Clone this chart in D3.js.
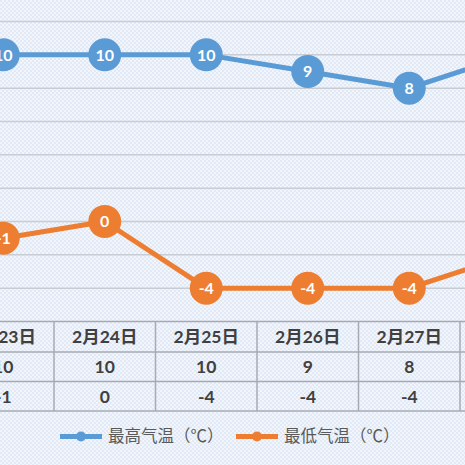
<!DOCTYPE html>
<html>
<head>
<meta charset="utf-8">
<script src="https://cdn.jsdelivr.net/npm/d3@7"></script>
<style>
  html, body { margin: 0; padding: 0; background: #e8eff8; }
  svg { display: block; }
</style>
</head>
<body>
<svg id="chart" width="465" height="465"></svg>
<script>
// data
const dates = ["2月23日", "2月24日", "2月25日", "2月26日", "2月27日", "2月28日"];
const highTemps = [10, 10, 10, 9, 8, 10];
const lowTemps = [-1, 0, -4, -4, -4, -2];
const yTicks = [-6, -4, -2, 0, 2, 4, 6, 8, 10, 12, 14];
const seriesNames = ["最高气温（℃）", "最低气温（℃）"];

const W = 465, H = 465;
const blue = "#5b9bd5", orange = "#ed7d31";
const numFont = "Lato, 'Noto Sans CJK SC', sans-serif";

const svg = d3.select("#chart");

// diamond-ish texture like the office background
const defs = svg.append("defs");
const pat = defs.append("pattern")
    .attr("id", "bg")
    .attr("width", 4).attr("height", 4)
    .attr("patternUnits", "userSpaceOnUse");
pat.append("rect").attr("width", 4).attr("height", 4).attr("fill", "#f2f6fb");
pat.append("rect").attr("x", 0).attr("y", 0).attr("width", 2).attr("height", 2).attr("fill", "#e0e9f5");
pat.append("rect").attr("x", 2).attr("y", 2).attr("width", 2).attr("height", 2).attr("fill", "#e0e9f5");

svg.append("rect").attr("width", W).attr("height", H).attr("fill", "url(#bg)");

// the chart is cropped: band scale runs past both edges
const x = d3.scaleBand()
    .domain(dates)
    .range([-47.5, -47.5 + 101.5 * dates.length]);

const y = d3.scaleLinear()
    .domain([-6, 14])
    .range([321.5, -11.8]);

// gridlines
svg.append("g")
    .selectAll("line")
    .data(yTicks.slice(1))
    .join("line")
    .attr("x1", 0).attr("x2", W)
    .attr("y1", d => y(d)).attr("y2", d => y(d))
    .attr("stroke", "#c8cdd4")
    .attr("stroke-width", 1.5);

const cx = d => x(d) + x.bandwidth() / 2;

function drawSeries(values, color) {
    const pts = dates.map((d, i) => [cx(d), y(values[i]), values[i]]);
    const line = d3.line().x(p => p[0]).y(p => p[1]);
    svg.append("path")
        .attr("d", line(pts))
        .attr("fill", "none")
        .attr("stroke", color)
        .attr("stroke-width", 5)
        .attr("stroke-linejoin", "round");
    const g = svg.append("g")
        .selectAll("g")
        .data(pts)
        .join("g")
        .attr("transform", p => `translate(${p[0]},${p[1]})`);
    g.append("circle")
        .attr("r", 16.5)
        .attr("fill", color);
    g.append("text")
        .attr("text-anchor", "middle")
        .attr("dy", "0.36em")
        .attr("fill", "#fff")
        .attr("font-family", numFont)
        .attr("font-weight", "bold")
        .attr("font-size", 16)
        .text(p => p[2]);
}

drawSeries(highTemps, blue);
drawSeries(lowTemps, orange);

// data table under the plot
const rowY = [321.5, 352, 381.5, 411];
const tableRows = [dates, highTemps, lowTemps];
const tbl = svg.append("g");

tbl.selectAll("line.h")
    .data(rowY)
    .join("line")
    .attr("x1", 0).attr("x2", W)
    .attr("y1", d => d).attr("y2", d => d)
    .attr("stroke", "#a6abb2")
    .attr("stroke-width", 1.5);

tbl.selectAll("line.v")
    .data(dates)
    .join("line")
    .attr("x1", d => x(d) + x.bandwidth()).attr("x2", d => x(d) + x.bandwidth())
    .attr("y1", rowY[0]).attr("y2", rowY[3])
    .attr("stroke", "#a6abb2")
    .attr("stroke-width", 1.5);

tableRows.forEach((row, r) => {
    tbl.append("g")
        .selectAll("text")
        .data(row)
        .join("text")
        .attr("x", (d, i) => cx(dates[i]))
        .attr("y", (rowY[r] + rowY[r + 1]) / 2)
        .attr("dy", "0.36em")
        .attr("text-anchor", "middle")
        .attr("fill", "#404040")
        .attr("font-family", numFont)
        .attr("font-weight", "bold")
        .attr("font-size", 17.5)
        .text(d => d);
});

// legend
const legend = svg.append("g")
    .selectAll("g")
    .data(seriesNames)
    .join("g")
    .attr("transform", (d, i) => `translate(${60 + i * 176},436.5)`);

legend.append("line")
    .attr("x1", 0).attr("x2", 42)
    .attr("stroke", (d, i) => i ? orange : blue)
    .attr("stroke-width", 5);
legend.append("circle")
    .attr("cx", 21).attr("r", 5)
    .attr("fill", (d, i) => i ? orange : blue);
legend.append("text")
    .attr("x", 48)
    .attr("dy", "0.36em")
    .attr("fill", "#595959")
    .attr("font-family", "'Noto Sans CJK SC', sans-serif")
    .attr("font-size", 16.5)
    .text(d => d);
</script>
</body>
</html>
